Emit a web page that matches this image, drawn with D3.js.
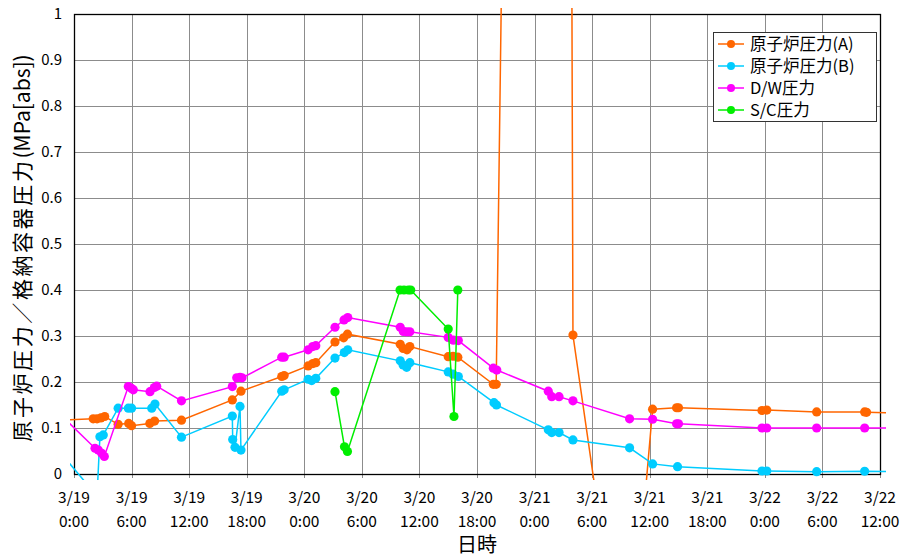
<!DOCTYPE html>
<html><head><meta charset="utf-8">
<script src="https://cdn.jsdelivr.net/npm/d3@7"></script>
<style>
body{margin:0;background:#fff;}
svg{display:block;}
text{font-family:"Noto Sans CJK JP","Noto Sans",sans-serif;fill:#000;}
</style></head>
<body><svg id="c" width="903" height="560"></svg>
<script>
// hours since 3/19 0:00
const seriesNames = ["原子炉圧力(A)", "原子炉圧力(B)", "D/W圧力", "S/C圧力"];
const seriesColors = ["#ff6600", "#00ccff", "#ff00ff", "#00ee00"];

const hoursA = [-2, 2.0, 2.4, 2.8, 3.2, 4.6, 5.7, 6.0, 7.9, 8.4, 11.2, 16.5, 17.4, 21.65, 21.9, 24.4, 24.9, 25.2, 27.2, 28.1, 28.5, 34.0, 34.3, 34.7, 35.0, 39.0, 39.5, 40.0, 43.7, 44.0, 50.5, 52.0, 57.6, 60.3, 62.8, 63.0, 71.7, 72.2, 77.4, 82.4, 82.6, 86];
const valuesA = [0.117, 0.120, 0.120, 0.122, 0.125, 0.108, 0.110, 0.105, 0.110, 0.115, 0.117, 0.161, 0.180, 0.212, 0.214, 0.235, 0.240, 0.242, 0.287, 0.296, 0.304, 0.282, 0.273, 0.270, 0.277, 0.255, 0.256, 0.254, 0.195, 0.195, 10.4, 0.302, -0.51, 0.141, 0.144, 0.144, 0.138, 0.139, 0.135, 0.135, 0.134, 0.133];

const hoursB = [-2, 2.4, 2.7, 3.05, 4.6, 5.66, 6.0, 8.1, 8.44, 11.2, 16.5, 16.54, 16.78, 17.3, 17.4, 21.65, 21.9, 24.4, 24.77, 25.2, 27.2, 28.17, 28.53, 34.0, 34.3, 34.67, 35.0, 39.0, 39.5, 40.05, 43.77, 44.03, 49.43, 49.79, 50.55, 52.0, 57.9, 60.3, 62.9, 71.7, 72.2, 77.4, 82.4, 86];
const valuesB = [0.061, -0.048, 0.081, 0.085, 0.143, 0.143, 0.143, 0.143, 0.152, 0.080, 0.126, 0.075, 0.058, 0.147, 0.052, 0.180, 0.183, 0.206, 0.203, 0.208, 0.252, 0.264, 0.270, 0.246, 0.237, 0.232, 0.242, 0.222, 0.217, 0.212, 0.155, 0.150, 0.096, 0.090, 0.090, 0.074, 0.057, 0.022, 0.016, 0.0065, 0.0065, 0.005, 0.006, 0.005];

const hoursDW = [-2, 2.19, 2.53, 2.89, 3.16, 5.66, 6.0, 6.18, 7.92, 8.37, 8.62, 11.2, 16.5, 16.96, 17.3, 17.51, 21.65, 21.9, 24.4, 24.88, 25.2, 27.2, 28.14, 28.53, 34.0, 34.32, 34.67, 35.0, 39.0, 39.53, 40.05, 43.7, 44.06, 49.43, 49.79, 50.55, 52.0, 57.9, 60.3, 62.8, 63.0, 71.7, 72.2, 77.4, 82.4, 86];
const valuesDW = [0.141, 0.056, 0.052, 0.045, 0.038, 0.190, 0.186, 0.183, 0.179, 0.188, 0.191, 0.159, 0.190, 0.209, 0.210, 0.209, 0.254, 0.254, 0.270, 0.277, 0.279, 0.319, 0.335, 0.340, 0.319, 0.310, 0.309, 0.309, 0.297, 0.291, 0.290, 0.230, 0.226, 0.180, 0.168, 0.168, 0.159, 0.120, 0.119, 0.109, 0.109, 0.100, 0.100, 0.100, 0.100, 0.100];

const hoursSC = [27.2, 28.19, 28.5, 33.98, 34.39, 34.84, 35.09, 39.0, 39.6, 40.0];
const valuesSC = [0.179, 0.059, 0.049, 0.400, 0.400, 0.400, 0.400, 0.315, 0.125, 0.400];

const xTickHours = [0, 6, 12, 18, 24, 30, 36, 42, 48, 54, 60, 66, 72, 78, 84];
const xTickDates = ["3/19", "3/19", "3/19", "3/19", "3/20", "3/20", "3/20", "3/20", "3/21", "3/21", "3/21", "3/21", "3/22", "3/22", "3/22"];
const xTickTimes = ["0:00", "6:00", "12:00", "18:00", "0:00", "6:00", "12:00", "18:00", "0:00", "6:00", "12:00", "18:00", "0:00", "6:00", "12:00"];
const yTicks = [0, 0.1, 0.2, 0.3, 0.4, 0.5, 0.6, 0.7, 0.8, 0.9, 1];
const yTickLabels = ["0", "0.1", "0.2", "0.3", "0.4", "0.5", "0.6", "0.7", "0.8", "0.9", "1"];

const svg = d3.select("#c");
const L = 74, R = 880, T = 14, B = 474;
const x = d3.scaleLinear().domain([0, 84]).range([L, R]);
const y = d3.scaleLinear().domain([0, 1]).range([B, T]);

// grid
const g = svg.append("g");
g.selectAll("line.h").data(yTicks).join("line")
  .attr("x1", L).attr("x2", R).attr("y1", d => y(d) + 0.5).attr("y2", d => y(d) + 0.5)
  .attr("stroke", "#8c8c8c").attr("stroke-width", 1);
g.selectAll("line.v").data(xTickHours).join("line")
  .attr("x1", d => Math.round(x(d)) + 0.5).attr("x2", d => Math.round(x(d)) + 0.5)
  .attr("y1", T).attr("y2", B + 4)
  .attr("stroke", "#8c8c8c").attr("stroke-width", 1);

// frame
svg.append("rect").attr("x", L + 0.5).attr("y", T + 0.5).attr("width", R - L).attr("height", B - T)
  .attr("fill", "none").attr("stroke", "#000").attr("stroke-width", 1.3);

// y tick labels
svg.append("g").selectAll("text").data(yTicks).join("text")
  .attr("x", 62).attr("y", d => y(d)).attr("dy", "0.36em")
  .attr("text-anchor", "end").attr("font-size", 15)
  .text((d, i) => yTickLabels[i]);

// x tick labels
const xl = svg.append("g").selectAll("g").data(xTickHours).join("g")
  .attr("transform", d => `translate(${x(d)},0)`);
xl.append("text").attr("y", 503).attr("text-anchor", "middle").attr("font-size", 15.5)
  .text((d, i) => xTickDates[i]);
xl.append("text").attr("y", 527).attr("text-anchor", "middle").attr("font-size", 15.5)
  .text((d, i) => xTickTimes[i]);

// axis titles
svg.append("text").attr("x", 477).attr("y", 552).attr("text-anchor", "middle")
  .attr("font-size", 20).text("日時");
const yt = svg.append("text").attr("transform", "translate(30,248) rotate(-90)")
  .attr("text-anchor", "middle");
yt.append("tspan").attr("font-size", 21).attr("letter-spacing", 2.6).text("原子炉圧力／格納容器圧力");
yt.append("tspan").attr("font-size", 21).text("(MPa[abs])");

// series
svg.append("clipPath").attr("id", "clip").append("rect")
  .attr("x", 70).attr("y", 8).attr("width", 816).attr("height", 472);
const plot = svg.append("g").attr("clip-path", "url(#clip)");
const allSeries = [
  [hoursA, valuesA], [hoursB, valuesB], [hoursDW, valuesDW], [hoursSC, valuesSC]
];
const line = d3.line().x(d => x(d[0])).y(d => y(d[1]));
allSeries.forEach((s, i) => {
  const pts = s[0].map((h, j) => [h, s[1][j]]);
  plot.append("path").datum(pts).attr("d", line)
    .attr("fill", "none").attr("stroke", seriesColors[i]).attr("stroke-width", 1.5);
  plot.append("g").selectAll("circle").data(pts.filter(p => p[0] >= 0 && p[0] <= 84 && p[1] >= 0 && p[1] <= 1)).join("circle")
    .attr("cx", p => x(p[0])).attr("cy", p => y(p[1])).attr("r", 4.6)
    .attr("fill", seriesColors[i]);
});

// legend
const lg = svg.append("g");
lg.append("rect").attr("x", 713.5).attr("y", 32.5).attr("width", 163).attr("height", 89)
  .attr("fill", "#fff").attr("stroke", "#333").attr("stroke-width", 1);
const rows = lg.selectAll("g.row").data(seriesNames).join("g")
  .attr("transform", (d, i) => `translate(0,${44 + i * 22})`);
rows.append("line").attr("x1", 718).attr("x2", 744).attr("y1", 0).attr("y2", 0)
  .attr("stroke", (d, i) => seriesColors[i]).attr("stroke-width", 1.5);
rows.append("circle").attr("cx", 731).attr("cy", 0).attr("r", 4)
  .attr("fill", (d, i) => seriesColors[i]);
rows.append("text").attr("x", 750).attr("y", 0).attr("dy", "0.36em").attr("font-size", 16.5)
  .text(d => d);
</script></body></html>
